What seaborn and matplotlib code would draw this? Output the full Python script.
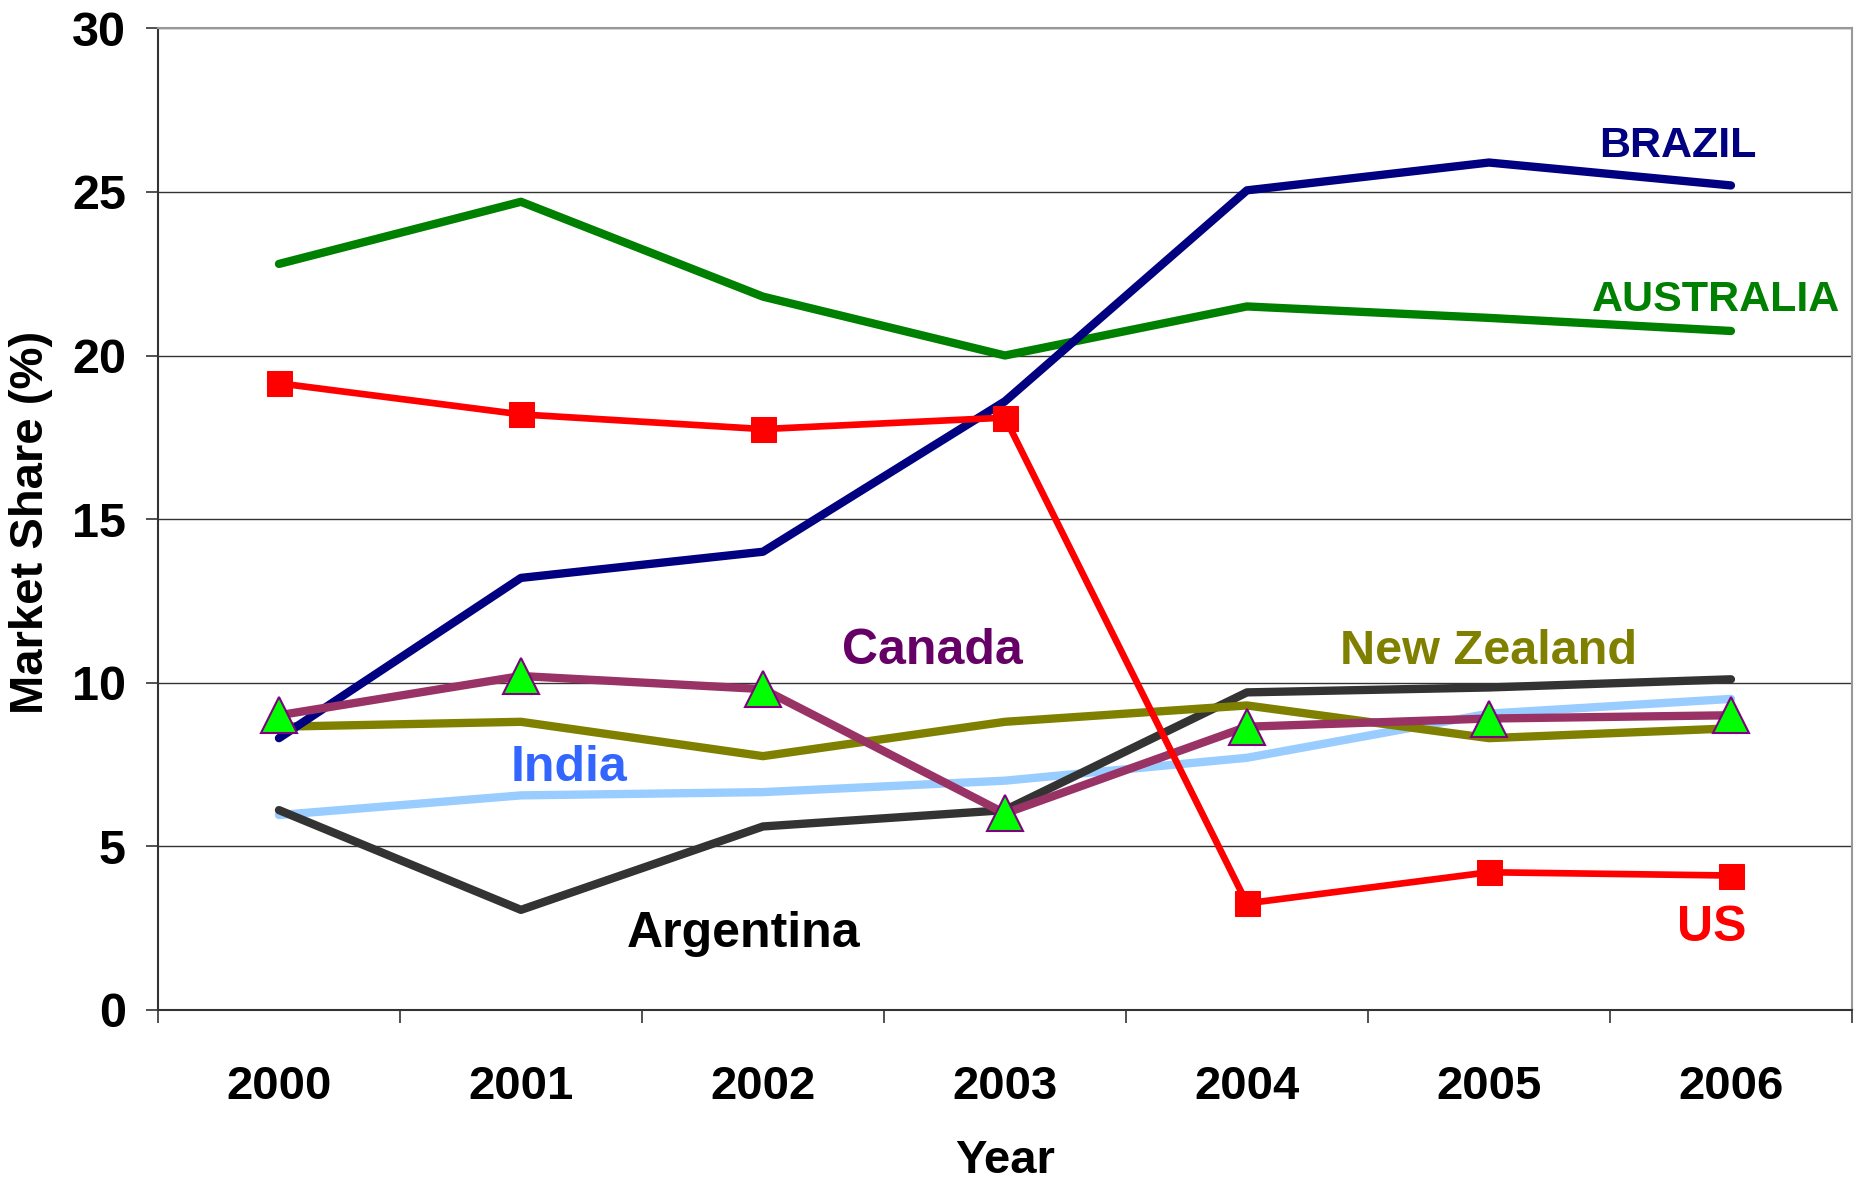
import matplotlib
matplotlib.use("Agg")
import matplotlib.pyplot as plt
import seaborn as sns
import numpy as np
import pandas as pd
from matplotlib.ticker import FixedLocator

years = ["2000", "2001", "2002", "2003", "2004", "2005", "2006"]
brazil = [8.3, 13.2, 14.0, 18.6, 25.05, 25.9, 25.2]
australia = [22.8, 24.7, 21.8, 20.0, 21.5, 21.15, 20.75]
us = [19.15, 18.2, 17.75, 18.1, 3.25, 4.2, 4.1]
canada = [9.0, 10.2, 9.8, 6.0, 8.65, 8.9, 9.0]
new_zealand = [8.65, 8.8, 7.75, 8.8, 9.3, 8.3, 8.6]
india = [5.95, 6.55, 6.65, 7.0, 7.7, 9.05, 9.5]
argentina = [6.1, 3.05, 5.6, 6.1, 9.7, 9.85, 10.1]

sns.set_theme(style="white")
plt.rcParams['font.family'] = ['Liberation Sans', 'DejaVu Sans']

fig = plt.figure(figsize=(18.65, 11.85), dpi=100)
ax = fig.add_axes([0.0847, 0.148, 0.9083, 0.828])

x = np.arange(len(years))

series = [
    ("India", india, "#99CCFF", 6.0, None),
    ("Argentina", argentina, "#333333", 6.0, None),
    ("New Zealand", new_zealand, "#808000", 6.0, None),
    ("Australia", australia, "#008000", 6.0, None),
    ("Brazil", brazil, "#000080", 6.0, None),
    ("Canada", canada, "#993366", 6.0, "^"),
    ("US", us, "#FF0000", 4.8, "s"),
]

for name, vals, col, lw, mk in series:
    kw = dict(x=x, y=vals, ax=ax, color=col, linewidth=lw, legend=False)
    if mk == "^":
        kw.update(marker="^", markersize=26, markerfacecolor="#00FF00",
                  markeredgecolor="#800080", markeredgewidth=1.5)
    elif mk == "s":
        kw.update(marker="s", markersize=18, markerfacecolor="#FF0000",
                  markeredgecolor="#FF0000")
    sns.lineplot(**kw)
    ax.lines[-1].set_solid_capstyle("round")
    ax.lines[-1].set_solid_joinstyle("round")

ax.set_xlim(-0.5, 6.5)
ax.set_ylim(0, 30)
ax.set_yticks([0, 5, 10, 15, 20, 25, 30])
ax.set_xticks(x)
ax.set_xticklabels(years)
ax.xaxis.set_minor_locator(FixedLocator(np.arange(-0.5, 7.0, 1.0)))
ax.tick_params(axis="x", which="major", length=0, pad=40, labelsize=34)
ax.tick_params(axis="x", which="minor", length=9, width=1.2, color="#333333", direction="out", bottom=True)
ax.tick_params(axis="y", which="major", length=9, width=1.2, color="#333333", direction="out", left=True, pad=14, labelsize=35)
for lab in ax.get_xticklabels() + ax.get_yticklabels():
    lab.set_fontweight("bold")
    lab.set_color("black")

ax.yaxis.grid(True, color="#333333", linewidth=1.0)
ax.xaxis.grid(False)
ax.set_axisbelow(True)
for s in ["left", "bottom"]:
    ax.spines[s].set_color("#333333")
    ax.spines[s].set_linewidth(1.5)
for s in ["top", "right"]:
    ax.spines[s].set_color("#999999")
    ax.spines[s].set_linewidth(1.5)

ax.set_xlabel("Year", fontsize=34, fontweight="bold", color="black", va="center")
ax.xaxis.set_label_coords(0.5, -0.154)
ax.set_ylabel("Market Share (%)", fontsize=34, fontweight="bold", color="black")
ax.yaxis.set_label_coords(-0.062, 0.497)

labels = [
    ("BRAZIL", 5.78, 26.4, "#000080", 31),
    ("AUSTRALIA", 5.94, 21.7, "#008000", 31),
    ("Canada", 2.70, 10.95, "#660066", 36),
    ("New Zealand", 5.0, 10.95, "#808000", 35),
    ("India", 1.2, 7.4, "#3366FF", 36),
    ("Argentina", 1.92, 2.3, "#000000", 36),
    ("US", 5.92, 2.5, "#FF0000", 36),
]
for txt, lx, ly, col, fs in labels:
    ax.text(lx, ly, txt, color=col, fontsize=fs, fontweight="bold",
            ha="center", va="center")

fig.savefig("out.png", dpi=100)
